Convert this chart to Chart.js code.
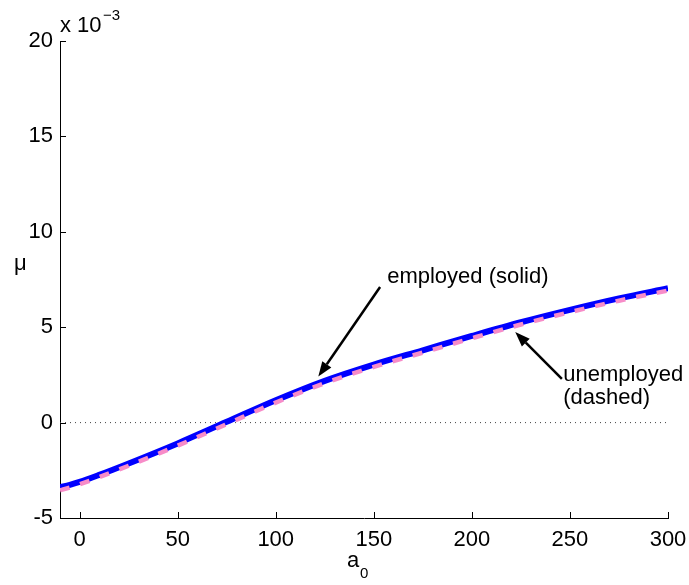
<!DOCTYPE html>
<html>
<head>
<meta charset="utf-8">
<script src="https://cdn.jsdelivr.net/npm/chart.js@4/dist/chart.umd.min.js"></script>
<style>
html,body{margin:0;padding:0;background:#fff;}
#wrap{width:689px;height:585px;}
</style>
</head>
<body>
<div id="wrap"><canvas id="c" width="689" height="585"></canvas></div>
<script>
// ---- data (mu in units of 1e-3) ----
const a0Values      = [-10, -5, 0, 10, 25, 50, 75, 100, 125, 150, 175, 200, 225, 250, 275, 300];
const muEmployed    = [-3.39, -3.26, -3.11, -2.74, -2.14, -1.09, 0.04, 1.17, 2.19, 3.04, 3.79, 4.54, 5.26, 5.91, 6.51, 7.04];
const muUnemployed  = [-3.55, -3.40, -3.23, -2.86, -2.26, -1.21, -0.08, 1.05, 2.07, 2.92, 3.67, 4.42, 5.14, 5.79, 6.39, 6.92];
const xTickValues   = [0, 50, 100, 150, 200, 250, 300];
const yTickValues   = [-5, 0, 5, 10, 15, 20];
const zeroLineX     = [-10, 300];

const FONT = '"Liberation Sans", Arial, Helvetica, sans-serif';

// annotations (positions in data units)
const arrows = [
  {from:[153.2, 7.11], to:[121.7, 2.41]},
  {from:[245.9, 2.29], to:[222.1, 4.75]}
];
const notes = [
  {text:'employed (solid)', x:156.8, y:7.3},
  {text:'unemployed', x:246.6, y:2.17},
  {text:'(dashed)', x:246.6, y:0.97}
];

const pts = (xs, ys) => xs.map((x, i) => ({x, y: ys[i]}));

const decorPlugin = {
  id: 'decor',
  afterDraw(chart) {
    const ctx = chart.ctx;
    const xs = chart.scales.x, ys = chart.scales.y;
    const area = chart.chartArea;
    ctx.save();
    // inward tick marks
    ctx.strokeStyle = '#000';
    ctx.lineWidth = 1;
    const tl = 6;
    xTickValues.forEach(v => {
      const px = Math.round(xs.getPixelForValue(v)) + 0.5;
      ctx.beginPath(); ctx.moveTo(px, area.bottom); ctx.lineTo(px, area.bottom - tl); ctx.stroke();
    });
    yTickValues.forEach(v => {
      const py = Math.round(ys.getPixelForValue(v)) + 0.5;
      ctx.beginPath(); ctx.moveTo(area.left, py); ctx.lineTo(area.left + tl, py); ctx.stroke();
    });
    // arrows
    ctx.strokeStyle = '#000'; ctx.fillStyle = '#000'; ctx.lineWidth = 2.5;
    arrows.forEach(a => {
      const x1 = xs.getPixelForValue(a.from[0]), y1 = ys.getPixelForValue(a.from[1]);
      const x2 = xs.getPixelForValue(a.to[0]),   y2 = ys.getPixelForValue(a.to[1]);
      const ang = Math.atan2(y2 - y1, x2 - x1);
      const hl = 15, hw = 5.5;
      const bx = x2 - hl * Math.cos(ang), by = y2 - hl * Math.sin(ang);
      ctx.beginPath(); ctx.moveTo(x1, y1); ctx.lineTo(bx, by); ctx.stroke();
      ctx.beginPath();
      ctx.moveTo(x2, y2);
      ctx.lineTo(bx + hw * Math.sin(ang), by - hw * Math.cos(ang));
      ctx.lineTo(bx - hw * Math.sin(ang), by + hw * Math.cos(ang));
      ctx.closePath(); ctx.fill();
    });
    // annotation text
    ctx.font = '22px ' + FONT;
    ctx.textAlign = 'left'; ctx.textBaseline = 'alphabetic';
    notes.forEach(n => {
      ctx.fillText(n.text, xs.getPixelForValue(n.x), ys.getPixelForValue(n.y));
    });
    // exponent label
    ctx.fillText('x 10', area.left, 32);
    ctx.font = '15px ' + FONT;
    ctx.fillText('\u22123', area.left + 43, 20);
    // y label
    ctx.font = '22px ' + FONT;
    ctx.fillText('\u03bc', 14, 270);
    // x label
    ctx.fillText('a', 347, 567);
    ctx.font = '15px ' + FONT;
    ctx.fillText('0', 360, 578);
    ctx.restore();
  }
};

const noPad = s => { s.paddingLeft = 0; s.paddingRight = 0; s.paddingTop = 0; s.paddingBottom = 0; };

new Chart(document.getElementById('c'), {
  type: 'scatter',
  data: {
    datasets: [
      {
        label: 'unemployed (dashed)',
        data: pts(a0Values, muUnemployed),
        showLine: true, borderColor: 'rgb(247,140,200)', borderWidth: 4.5,
        borderDash: [10, 11], pointRadius: 0, cubicInterpolationMode: 'monotone', order: 0
      },
      {
        label: 'employed (solid)',
        data: pts(a0Values, muEmployed),
        showLine: true, borderColor: '#0000ff', borderWidth: 6,
        pointRadius: 0, cubicInterpolationMode: 'monotone', order: 1
      },
      {
        label: 'zero',
        data: pts(zeroLineX, [0, 0]),
        showLine: true, borderColor: '#444', borderWidth: 1,
        borderDash: [1, 4], pointRadius: 0, order: 2
      }
    ]
  },
  options: {
    responsive: false,
    devicePixelRatio: 1,
    animation: false,
    layout: { padding: { top: 41, right: 21, left: 0, bottom: 0 } },
    plugins: { legend: { display: false }, tooltip: { enabled: false } },
    scales: {
      x: {
        type: 'linear', min: -10, max: 300,
        afterBuildTicks: s => { s.ticks = xTickValues.map(v => ({value: v})); },
        afterFit: s => { s.height = 67; noPad(s); },
        grid: { drawOnChartArea: false, drawTicks: false },
        border: { display: true, color: '#000', width: 1 },
        ticks: { color: '#000', font: { family: FONT, size: 22 }, padding: 9, maxRotation: 0, autoSkip: false }
      },
      y: {
        type: 'linear', min: -5, max: 20,
        afterBuildTicks: s => { s.ticks = yTickValues.map(v => ({value: v})); },
        afterFit: s => { s.width = 60; noPad(s); },
        grid: { drawOnChartArea: false, drawTicks: false },
        border: { display: true, color: '#000', width: 1 },
        ticks: { color: '#000', font: { family: FONT, size: 22 }, padding: 7, autoSkip: false }
      }
    }
  },
  plugins: [decorPlugin]
});
</script>
</body>
</html>
